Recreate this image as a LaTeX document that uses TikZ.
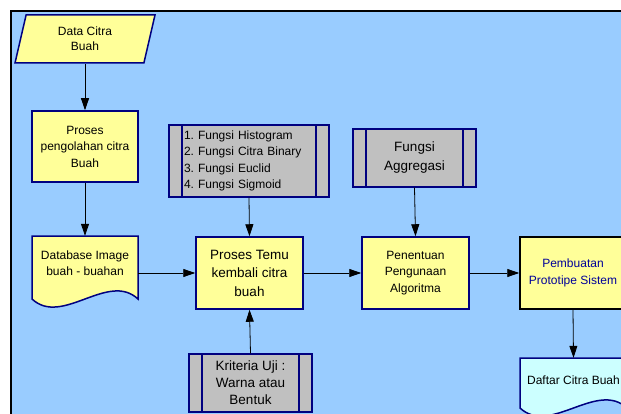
\documentclass[tikz,border=0pt]{standalone}
\usepackage{fontspec}
\setmainfont{Liberation Sans}
\usepackage{tikz}
\usetikzlibrary{arrows.meta, positioning, shapes.geometric, calc}
\definecolor{latar}{RGB}{153, 204, 255}
\definecolor{kuning}{RGB}{255, 255, 153}
\definecolor{abu}{RGB}{192, 192, 192}
\definecolor{navy}{RGB}{0, 0, 128}
\definecolor{cyanmuda}{RGB}{204, 255, 255}
\definecolor{biru}{RGB}{0, 0, 153}
\frenchspacing

\begin{document}
\begin{tikzpicture}[x=1pt, y=-1pt,
		proses/.style={rectangle, draw=navy, line width=1.5pt, fill=kuning, align=center, inner sep=0pt, font=\fontsize{12}{16.5}\selectfont},
		predef/.style={rectangle, draw=navy, line width=1.5pt, fill=abu, align=center, inner sep=0pt, font=\fontsize{12}{16.3}\selectfont,
			path picture={
				\draw[navy, line width=1.5pt] ([xshift=13pt]path picture bounding box.north west) -- ([xshift=13pt]path picture bounding box.south west);
				\draw[navy, line width=1.5pt] ([xshift=-13pt]path picture bounding box.north east) -- ([xshift=-13pt]path picture bounding box.south east);
			}},
		dokumen/.style={draw=navy, line width=1.5pt},
		teks/.style={align=center, inner sep=0pt, font=\fontsize{12}{16}\selectfont},
		panah/.style={-{Triangle[length=12pt, width=8pt]}, line width=0.8pt, black}]
	\useasboundingbox (0,0) rectangle (621,414);
	\clip (0,0) rectangle (621,414);
	\fill[white] (0,0) rectangle (621,414);
	\draw[line width=2pt, fill=latar] (11,11) rectangle (650,450);
	
	\node[trapezium, trapezium left angle=65, trapezium right angle=115, trapezium stretches body, minimum width=140pt, minimum height=48pt, draw=navy, line width=1.5pt, fill=kuning, align=center, inner sep=0pt, font=\fontsize{12}{15}\selectfont] (data) at (85,39) {Data Citra\\Buah};
	
	\node[proses, minimum width=106pt, minimum height=71pt] (olah) at (85,146.5) {Proses\\pengolahan citra\\Buah};
	
	\draw[dokumen, fill=kuning] (32,299) -- (32,236) -- (138,236) -- (138,299) .. controls +(-30,-28) and +(30,28) .. (32,299) -- cycle;
	\node[teks, minimum width=106pt, minimum height=54pt] (db) at (85,263) {Database Image\\buah - buahan};
	
	\node[predef, minimum width=160pt, minimum height=72pt, text width=130pt, inner xsep=15pt, align=left] (fungsi) at (249,161) {1. Fungsi Histogram\\2. Fungsi Citra Binary\\3. Fungsi Euclid\\4. Fungsi Sigmoid};
	
	\node[proses, minimum width=107pt, minimum height=72pt, font=\fontsize{13.5}{18.5}\selectfont] (temu) at (249.5,273) {Proses Temu\\kembali citra\\buah};
	
	\node[predef, minimum width=123pt, minimum height=58pt, font=\fontsize{13.5}{17}\selectfont] (krit) at (250.5,383) {Kriteria Uji :\\Warna atau\\Bentuk};
	
	\node[predef, minimum width=123pt, minimum height=58pt, font=\fontsize{13.5}{19}\selectfont] (agg) at (414.5,158) {Fungsi\\Aggregasi};
	
	\node[proses, minimum width=107pt, minimum height=72pt] (tentu) at (415.5,273) {Penentuan\\Pengunaan\\Algoritma};
	
	\node[proses, draw=black, minimum width=106pt, minimum height=72pt, text=biru, font=\fontsize{12}{17}\selectfont] (buat) at (573,273) {Pembuatan\\Prototipe Sistem};
	
	\draw[dokumen, fill=cyanmuda] (520,408) -- (520,358) -- (627,358) -- (627,408) .. controls +(-30,-28) and +(30,28) .. (520,408) -- cycle;
	\node[teks, minimum width=107pt, minimum height=44pt] (daftar) at (573.5,380) {Daftar Citra Buah};
	
	\draw[panah] (olah.north |- data.south) -- (olah.north);
	\draw[panah] (olah.south) -- (db.north);
	\draw[panah] (db.east |- temu.west) -- (temu.west);
	\draw[panah] (fungsi.south) -- (temu.north);
	\draw[panah] (krit.north) -- (temu.south);
	\draw[panah] (temu.east) -- (tentu.west);
	\draw[panah] (agg.south) -- (tentu.north);
	\draw[panah] (tentu.east) -- (buat.west);
	\draw[panah] (buat.south) -- (daftar.north);
\end{tikzpicture}
\end{document}
